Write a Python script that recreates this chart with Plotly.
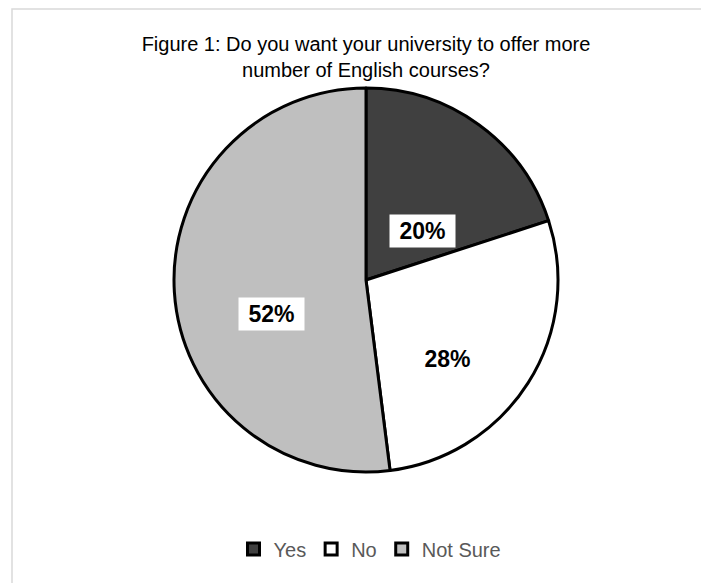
import plotly.graph_objects as go

W, H = 709, 583
FONT = "Liberation Sans, Arial, sans-serif"

categories = ["Yes", "No", "Not Sure"]
values = [20, 28, 52]
colors = ["#404040", "#ffffff", "#bfbfbf"]

fig = go.Figure()
fig.add_trace(go.Pie(
    labels=categories,
    values=values,
    sort=False,
    direction="clockwise",
    rotation=0,
    marker=dict(colors=colors, line=dict(color="#000000", width=3)),
    textinfo="none",
    hoverinfo="label+percent",
    domain=dict(x=[166 / W, 550 / W], y=[1 - 464 / H, 1 - 80 / H]),
))

# data-label anchor points (page pixels); text comes from the values
label_px = [(414, 223), (439, 351), (263, 306)]
total = sum(values)
annotations = []
for (px, py), v in zip(label_px, values):
    annotations.append(dict(
        x=px / W, y=1 - py / H, xref="paper", yref="paper",
        text=f"<b>&nbsp;{round(100 * v / total)}%&nbsp;</b>",
        showarrow=False,
        font=dict(family=FONT, size=23, color="#000000"),
        bgcolor="#ffffff",
        borderpad=3,
        xanchor="center", yanchor="middle",
    ))

fig.update_layout(
    width=W, height=H,
    margin=dict(l=0, r=0, t=0, b=0),
    paper_bgcolor="#ffffff",
    plot_bgcolor="#ffffff",
    title=dict(
        text="Figure 1: Do you want your university to offer more<br>number of English courses?",
        x=358 / W, xanchor="center",
        y=1 - 43 / H, yanchor="top",
        font=dict(family=FONT, size=20, color="#000000"),
    ),
    showlegend=True,
    legend=dict(
        orientation="h",
        x=362 / W, xanchor="center",
        y=1 - 541 / H, yanchor="middle",
        font=dict(family=FONT, size=20, color="#595959"),
        itemwidth=30,
        traceorder="normal",
    ),
    annotations=annotations,
    shapes=[dict(
        type="rect", xref="paper", yref="paper",
        x0=4 / W, x1=1.02, y0=-0.02, y1=1 - 1 / H,
        line=dict(color="#d9d9d9", width=1.5),
        fillcolor="rgba(0,0,0,0)",
        layer="below",
    )],
)

fig.write_html("out.html")
